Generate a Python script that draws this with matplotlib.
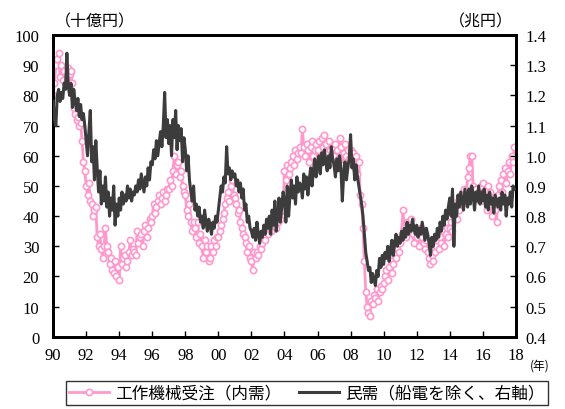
import numpy as np
import matplotlib
matplotlib.use("Agg")
import matplotlib.pyplot as plt
from matplotlib.ticker import FuncFormatter

plt.rcParams["font.family"] = ["Liberation Serif", "Noto Sans CJK JP"]

JP = ["Noto Sans CJK JP", "DejaVu Sans"]

# monthly values, Jan 1990 - Dec 2017
machine_tool = [
    # 1990
    80, 84, 90, 92, 94, 86, 90, 85, 88, 84, 86, 89,
    # 1991
    87, 88, 84, 76, 74, 72, 73, 70, 71, 65, 58, 55,
    # 1992
    50, 47, 51, 45, 44, 40, 42, 43, 33, 30, 34, 29,
    # 1993
    26, 30, 36, 30, 28, 24, 26, 22, 21, 25, 20, 23,
    # 1994
    19, 30, 24, 26, 27, 23, 25, 28, 32, 27, 29, 28,
    # 1995
    27, 35, 31, 33, 34, 30, 35, 37, 33, 36, 39, 38,
    # 1996
    40, 44, 41, 43, 45, 47, 44, 46, 48, 45, 47, 49,
    # 1997
    49, 52, 50, 55, 60, 54, 57, 58, 53, 55, 50, 48,
    # 1998
    47, 42, 40, 44, 38, 35, 38, 36, 33, 38, 31, 34,
    # 1999
    30, 26, 32, 28, 30, 25, 26, 30, 28, 32, 30, 33,
    # 2000
    33, 35, 37, 39, 41, 44, 46, 48, 45, 50, 52, 47,
    # 2001
    46, 44, 41, 42, 38, 36, 34, 33, 31, 28, 30, 26,
    # 2002
    25, 22, 28, 26, 28, 27, 30, 29, 31, 33, 32, 35,
    # 2003
    34, 36, 35, 38, 37, 40, 36, 38, 41, 39, 44, 42,
    # 2004
    55, 52, 57, 54, 56, 58, 60, 57, 62, 59, 61, 63,
    # 2005
    61, 69, 63, 60, 64, 62, 58, 63, 65, 60, 62, 64,
    # 2006
    62, 65, 60, 66, 63, 67, 64, 61, 65, 62, 58, 63,
    # 2007
    60, 64, 62, 59, 66, 63, 57, 61, 64, 60, 62, 59,
    # 2008
    62, 58, 61, 56, 60, 54, 58, 47, 44, 36, 25, 15,
    # 2009
    10, 8, 7, 12, 11, 14, 13, 16, 12, 15, 17, 16,
    # 2010
    18, 20, 22, 19, 23, 25, 21, 24, 27, 26, 29, 28,
    # 2011
    31, 34, 42, 36, 33, 38, 35, 37, 39, 34, 31, 36,
    # 2012
    33, 35, 30, 36, 33, 31, 29, 32, 28, 26, 24, 27,
    # 2013
    25, 28, 30, 32, 29, 33, 31, 35, 30, 34, 36, 33,
    # 2014
    36, 38, 35, 40, 43, 39, 45, 42, 47, 44, 49, 46,
    # 2015
    47, 53, 56, 60, 60, 50, 47, 49, 46, 48, 45, 50,
    # 2016
    51, 45, 47, 42, 50, 48, 44, 40, 46, 42, 38, 47,
    # 2017
    50, 52, 48, 54, 56, 51, 55, 58, 54, 60, 58, 63,
]

private_demand = [
    # 1990
    1.18, 1.12, 1.10, 1.20, 1.22, 1.18, 1.21, 1.19, 1.24, 1.22, 1.34, 1.23,
    # 1991
    1.20, 1.24, 1.16, 1.22, 1.18, 1.15, 1.19, 1.13, 1.17, 1.12, 1.14, 1.10,
    # 1992
    1.05, 1.00, 1.08, 1.15, 0.98, 1.03, 0.92, 1.05, 0.96, 0.88, 0.95, 0.84,
    # 1993
    0.90, 0.85, 0.93, 0.83, 0.88, 0.80, 0.86, 0.82, 0.90, 0.77, 0.84, 0.80,
    # 1994
    0.86, 0.82, 0.88, 0.84, 0.87, 0.85, 0.90, 0.86, 0.89, 0.85, 0.88, 0.87,
    # 1995
    0.90, 0.88, 0.92, 0.89, 0.94, 0.91, 0.88, 0.93, 0.90, 0.96, 0.92, 0.98,
    # 1996
    0.97, 1.02, 0.99, 1.05, 1.00, 1.04, 1.08, 1.03, 1.10, 1.21, 1.06, 1.12,
    # 1997
    1.04, 1.10, 1.00, 1.12, 1.06, 1.15, 1.02, 1.10, 1.05, 1.09, 0.98, 1.06,
    # 1998
    1.02, 0.95, 1.00, 0.92, 0.88, 0.85, 0.90, 0.82, 0.84, 0.80, 0.83, 0.78,
    # 1999
    0.80, 0.76, 0.82, 0.78, 0.75, 0.79, 0.77, 0.74, 0.78, 0.76, 0.80, 0.78,
    # 2000
    0.82, 0.86, 0.90, 0.88, 0.93, 0.91, 1.03, 0.94, 0.96, 0.92, 0.95, 0.93,
    # 2001
    0.94, 0.90, 0.92, 0.88, 0.91, 0.86, 0.89, 0.82, 0.84, 0.78, 0.80, 0.76,
    # 2002
    0.75, 0.73, 0.76, 0.72, 0.78, 0.74, 0.71, 0.75, 0.73, 0.77, 0.74, 0.79,
    # 2003
    0.76, 0.80, 0.74, 0.82, 0.77, 0.85, 0.75, 0.80, 0.86, 0.78, 0.83, 0.88,
    # 2004
    0.85, 0.78, 0.90, 0.80, 0.87, 0.92, 0.86, 0.90, 0.84, 0.93, 0.88, 0.91,
    # 2005
    0.90, 0.86, 0.94, 0.89, 0.93, 0.87, 0.92, 0.96, 0.90, 0.95, 0.99, 0.93,
    # 2006
    0.97, 1.00, 0.94, 1.01, 0.97, 1.02, 0.98, 0.95, 1.00, 0.96, 1.03, 0.99,
    # 2007
    0.97, 0.93, 0.99, 0.95, 1.00, 0.96, 0.85, 0.94, 0.98, 0.92, 0.96, 0.99,
    # 2008
    1.07, 0.96, 0.99, 0.92, 0.97, 0.93, 0.90, 0.87, 0.84, 0.80, 0.74, 0.68,
    # 2009
    0.65, 0.62, 0.63, 0.58, 0.61, 0.59, 0.57, 0.62, 0.60, 0.66, 0.63, 0.67,
    # 2010
    0.64, 0.68, 0.66, 0.70, 0.65, 0.69, 0.72, 0.67, 0.71, 0.74, 0.70, 0.73,
    # 2011
    0.71, 0.75, 0.72, 0.76, 0.73, 0.78, 0.74, 0.77, 0.75, 0.79, 0.76, 0.74,
    # 2012
    0.77, 0.73, 0.76, 0.74, 0.78, 0.75, 0.72, 0.76, 0.74, 0.71, 0.67, 0.73,
    # 2013
    0.70, 0.74, 0.72, 0.76, 0.73, 0.78, 0.75, 0.80, 0.77, 0.82, 0.79, 0.83,
    # 2014
    0.86, 0.80, 0.89, 0.70, 0.84, 0.80, 0.87, 0.83, 0.88, 0.85, 0.82, 0.89,
    # 2015
    0.86, 0.83, 0.89, 0.84, 0.90, 0.87, 0.82, 0.88, 0.85, 0.90, 0.84, 0.88,
    # 2016
    0.85, 0.89, 0.83, 0.87, 0.82, 0.88, 0.84, 0.86, 0.81, 0.87, 0.85, 0.83,
    # 2017
    0.86, 0.82, 0.88, 0.84, 0.87, 0.80, 0.86, 0.84, 0.88, 0.83, 0.90, 0.89,
]

year_ticks = list(range(1990, 2019, 2))
year_labels = ["%02d" % (y % 100) for y in year_ticks]

t = 1990 + np.arange(len(machine_tool)) / 12.0

fig = plt.figure(figsize=(5.65, 4.10), dpi=100)
ax = fig.add_axes([0.094, 0.176, 0.819, 0.736])
ax2 = ax.twinx()

pink = "#ff99cc"
gray = "#3c3c3c"

l1, = ax.plot(t, machine_tool, color=pink, lw=2.0, marker="o", ms=4.5,
              mfc="white", mec=pink, mew=1.2, zorder=2)
l2, = ax2.plot(t, private_demand, color=gray, lw=2.2, zorder=3)

ax.set_xlim(1990, 2018)
ax.set_ylim(0, 100)
ax2.set_ylim(0.4, 1.4)

ax.set_xticks(year_ticks)
ax.set_xticklabels(year_labels)
ax.set_yticks(range(0, 101, 10))
ax2.set_yticks(np.arange(0.4, 1.41, 0.1))
ax2.yaxis.set_major_formatter(FuncFormatter(lambda v, p: "%.1f" % v))

ax.tick_params(axis="x", direction="in", length=4, width=1, pad=7,
               labelsize=12, top=False)
ax.tick_params(axis="y", direction="in", length=4, width=1, pad=10,
               labelsize=12)
ax2.tick_params(axis="y", direction="in", length=4, width=1, pad=7,
                labelsize=12)

for a in (ax, ax2):
    for s in a.spines.values():
        s.set_linewidth(2.0)
        s.set_color("black")

fig.text(0.098, 0.947, "（十億円）", family=JP, fontsize=11.5, ha="left", va="center")
fig.text(0.908, 0.947, "（兆円）", family=JP, fontsize=11.5, ha="right", va="center")
fig.text(0.937, 0.107, "(年)", family=JP, fontsize=8.5, ha="left", va="center")

leg = fig.legend([l1, l2], ["工作機械受注（内需）", "民需（船電を除く、右軸）"],
                 loc="lower center", bbox_to_anchor=(0.543, -0.01), ncol=2,
                 prop={"family": JP, "size": 12}, frameon=True, fancybox=False,
                 edgecolor="black", handlelength=2.4, columnspacing=1.0,
                 borderpad=0.2, handletextpad=0.4)
leg.get_frame().set_linewidth(1.0)

fig.savefig("out.png", dpi=100)
